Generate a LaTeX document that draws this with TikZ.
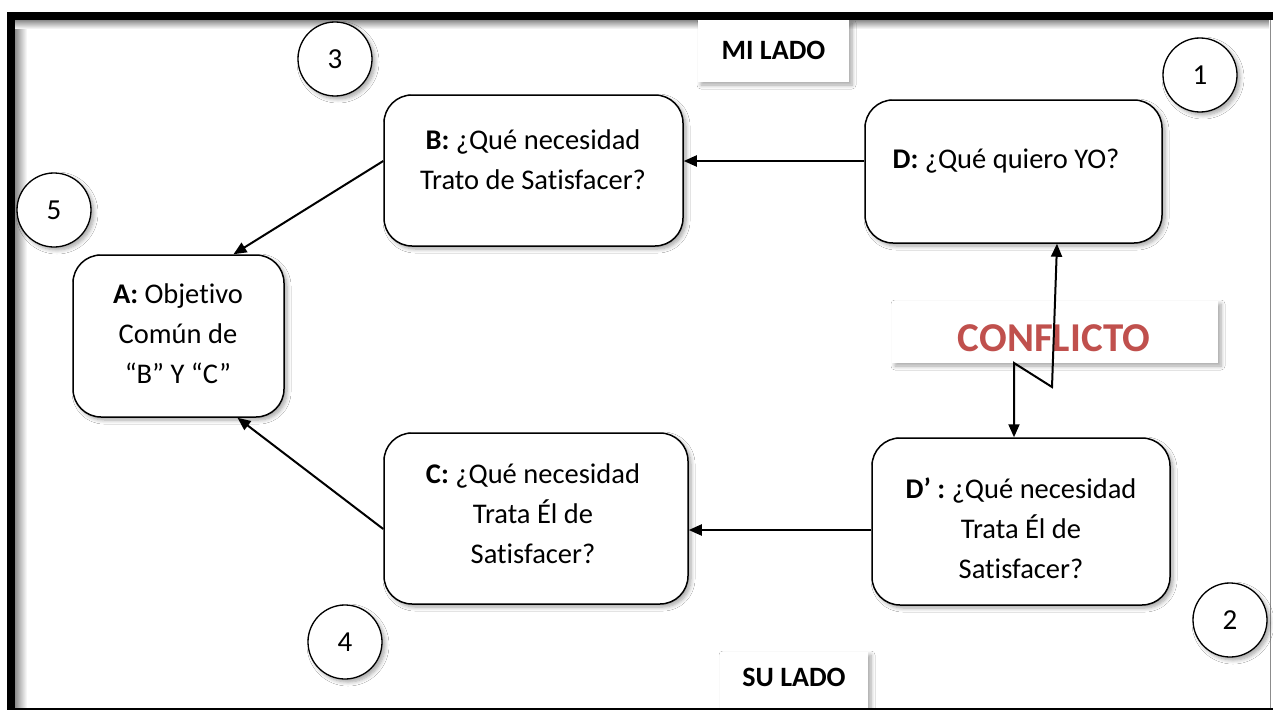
\documentclass[tikz,border=0pt]{standalone}
\usepackage{fontspec}
\setmainfont{Carlito}[Ligatures=NoCommon]
\usetikzlibrary{arrows.meta,shadows.blur}
\definecolor{conf}{HTML}{C0504D}
\tikzset{
  shad/.style={blur shadow={shadow xshift=3pt, shadow yshift=-3pt, shadow blur radius=4pt, shadow blur steps=6, shadow opacity=35}},
  box/.style={draw, line width=1.5pt, rounded corners=28pt, fill=white, inner sep=0pt, shad},
  num/.style={draw, circle, line width=1.3pt, fill=white, minimum size=74pt, inner sep=0pt, font=\fontsize{29}{32}\selectfont, shad},
  lbl/.style={fill=white, inner sep=0pt, shad, font=\bfseries\fontsize{28}{34}\selectfont},
  txt/.style={align=center, font=\fontsize{28.5}{40}\selectfont, inner sep=0pt},
  arr/.style={line width=2pt, -{Triangle[length=13pt,width=11pt]}},
  barr/.style={line width=2pt, {Triangle[length=13pt,width=11pt]}-{Triangle[length=13pt,width=11pt]}},
}
\begin{document}
\begin{tikzpicture}[x=1pt,y=-1pt]
\useasboundingbox (0,0) rectangle (1273,709);
\fill[white] (0,0) rectangle (1273,709);
% inner shadow of frame
\shade[left color=black!45, right color=white] (15,20) rectangle (27,709);
\shade[top color=black!45, bottom color=white] (15,20) rectangle (1269,29);
\draw[black!45, line width=1pt] (1270,20) -- (1270,709);

% boxes
\node[box, minimum width=299pt, minimum height=151pt] (B) at (533.5,170.5) {};
\node[box, minimum width=297pt, minimum height=143pt] (D) at (1013.5,171.5) {};
\node[box, minimum width=211pt, minimum height=162pt] (A) at (178.5,336) {};
\node[box, minimum width=304pt, minimum height=171pt] (C) at (536,518.5) {};
\node[box, minimum width=298pt, minimum height=167pt] (Dp) at (1021,521.5) {};

\node[txt] (Bt) at (533,160) {\textbf{B:} ¿Qué necesidad\\Trato de Satisfacer?};
\node[txt] (Dt) at (1006,161) {\textbf{D:} ¿Qué quiero YO?};
\node[txt] (At) at (178,334) {\textbf{A:} Objetivo\\Común de\\“B” Y “C”};
\node[txt] (Ct) at (533,514) {\textbf{C:} ¿Qué necesidad\\Trata Él de\\Satisfacer?};
\node[txt] (Dpt) at (1021,528) {\textbf{D’ :} ¿Qué necesidad\\Trata Él de\\Satisfacer?};

% numbered circles
\node[num] (n3) at (335,59) {3};
\node[num] (n1) at (1200,75) {1};
\node[num] (n5) at (54,210) {5};
\node[num] (n4) at (345,642) {4};
\node[num] (n2) at (1230,620) {2};

% side labels
\node[lbl, minimum width=151pt, minimum height=62pt] (mi) at (773.5,51) {\raisebox{2pt}{MI LADO}};
\node[lbl, minimum width=148pt, minimum height=60pt] (su) at (794,682) {\raisebox{9pt}{SU LADO}};

% conflict label
\node[fill=white, inner sep=0pt, minimum width=326pt, minimum height=62pt, shad] (cf) at (1055,332) {};
\node[inner sep=0pt, text=conf, font=\bfseries\fontsize{41}{44}\selectfont] (cft) at (1054,338) {CONFLICTO};

% connectors
\draw[arr] (D.west |- 0,161) -- (B.east |- 0,161);
\draw[arr] (Dp.west |- 0,530) -- (C.east |- 0,530);
\draw[arr] (B.west |- 0,161) -- ([xshift=55pt]A.north);
\draw[arr] (C.west |- 0,529) -- ([xshift=59pt]A.south);
\coordinate (k1) at (1014,363);
\coordinate (k2) at (1052,387);
\draw[barr] (Dp.north -| k1) -- (k1) -- (k2) -- (D.south -| 1057,0);

% frame
\begin{scope}
\clip (0,0) rectangle (1273,709);
\draw[line width=8pt] (11,16) rectangle (1295,712);
\end{scope}
\end{tikzpicture}
\end{document}
